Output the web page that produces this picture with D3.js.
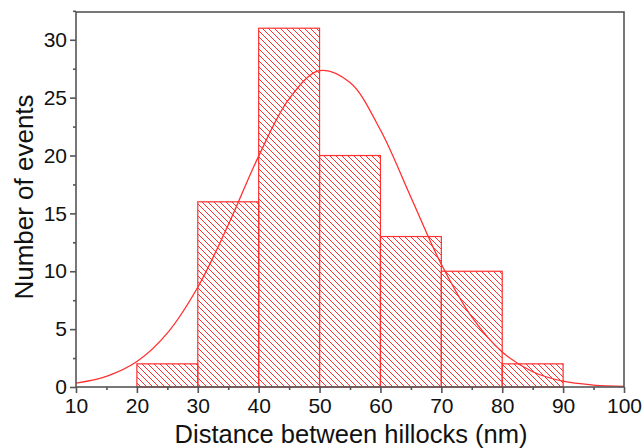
<!DOCTYPE html>
<html>
<head>
<meta charset="utf-8">
<script src="https://cdn.jsdelivr.net/npm/d3@7"></script>
<style>
  html, body { margin: 0; padding: 0; background: #fff; }
  svg { display: block; font-family: "Liberation Sans", Arial, sans-serif; }
</style>
</head>
<body>
<svg id="chart" width="642" height="448"></svg>
<script>
// Histogram bins (nm) and counts
const binStarts = [20, 30, 40, 50, 60, 70, 80];
const binWidth = 10;
const counts = [2, 16, 31, 20, 13, 10, 2];

// Fitted curve
const curveX = [10, 15, 20, 25, 30, 35, 40, 45, 50, 55, 60, 65, 70, 75, 80, 85, 90, 95, 100];
const curveY = [0.33, 0.92, 2.2, 4.66, 8.62, 14.0, 19.95, 24.9, 27.33, 26.3, 22.2, 16.4, 10.6, 6.05, 3.02, 1.32, 0.5, 0.17, 0.05];

const xTicks = [10, 20, 30, 40, 50, 60, 70, 80, 90, 100];
const yTicks = [0, 5, 10, 15, 20, 25, 30];
const xLabel = "Distance between hillocks (nm)";
const yLabel = "Number of events";

const svg = d3.select("#chart");
const m = { left: 76, right: 18, top: 12, bottom: 61 };
const W = 642, H = 448;
const x = d3.scaleLinear().domain([10, 100]).range([m.left, W - m.right]);
const y = d3.scaleLinear().domain([0, 32.4]).range([H - m.bottom, m.top]);

const red = "#ff3030";

const defs = svg.append("defs");
const pat = defs.append("pattern")
  .attr("id", "hatch")
  .attr("patternUnits", "userSpaceOnUse")
  .attr("width", 6).attr("height", 6);
pat.append("path")
  .attr("d", "M0,0 L6,6 M-3,3 L3,9 M3,-3 L9,3")
  .attr("stroke", red).attr("stroke-width", 1).attr("fill", "none");

const data = binStarts.map((s, i) => ({ s, c: counts[i] }));

svg.append("g").selectAll("rect").data(data).join("rect")
  .attr("x", d => x(d.s))
  .attr("y", d => y(d.c))
  .attr("width", d => x(d.s + binWidth) - x(d.s))
  .attr("height", d => y(0) - y(d.c))
  .attr("fill", "url(#hatch)")
  .attr("stroke", red)
  .attr("stroke-width", 1.2);

const pts = curveX.map((v, i) => [v, curveY[i]]);
svg.append("path")
  .datum(pts)
  .attr("fill", "none")
  .attr("stroke", red)
  .attr("stroke-width", 1.3)
  .attr("d", d3.line().x(d => x(d[0])).y(d => y(d[1])).curve(d3.curveCatmullRom));

// Frame
const axisColor = "#555";
svg.append("rect")
  .attr("x", m.left).attr("y", m.top)
  .attr("width", W - m.right - m.left).attr("height", H - m.bottom - m.top)
  .attr("fill", "none").attr("stroke", axisColor).attr("stroke-width", 1.6);

// Axes
const xAxis = svg.append("g").attr("transform", `translate(0,${H - m.bottom})`)
  .call(d3.axisBottom(x).tickValues(xTicks).tickSize(6).tickPadding(5).tickFormat(d3.format("d")));
const xMinor = svg.append("g").attr("transform", `translate(0,${H - m.bottom})`)
  .call(d3.axisBottom(x).tickValues(xTicks.slice(0, -1).map(v => v + 5)).tickSize(3).tickFormat(""));
const yAxis = svg.append("g").attr("transform", `translate(${m.left},0)`)
  .call(d3.axisLeft(y).tickValues(yTicks).tickSize(6).tickPadding(3).tickFormat(d3.format("d")));
const yMinor = svg.append("g").attr("transform", `translate(${m.left},0)`)
  .call(d3.axisLeft(y).tickValues(yTicks.map(v => v + 2.5)).tickSize(3).tickFormat(""));

[xAxis, xMinor, yAxis, yMinor].forEach(g => {
  g.select(".domain").remove();
  g.selectAll("line").attr("stroke", axisColor).attr("stroke-width", 1.6);
  g.selectAll("text").attr("fill", "#111").style("font-size", "21px");
});

svg.append("text")
  .attr("x", 351)
  .attr("y", 443)
  .attr("text-anchor", "middle")
  .attr("fill", "#111")
  .style("font-size", "25.5px")
  .text(xLabel);

svg.append("text")
  .attr("transform", `translate(33,197) rotate(-90)`)
  .attr("text-anchor", "middle")
  .attr("fill", "#111")
  .style("font-size", "26px")
  .text(yLabel);
</script>
</body>
</html>
